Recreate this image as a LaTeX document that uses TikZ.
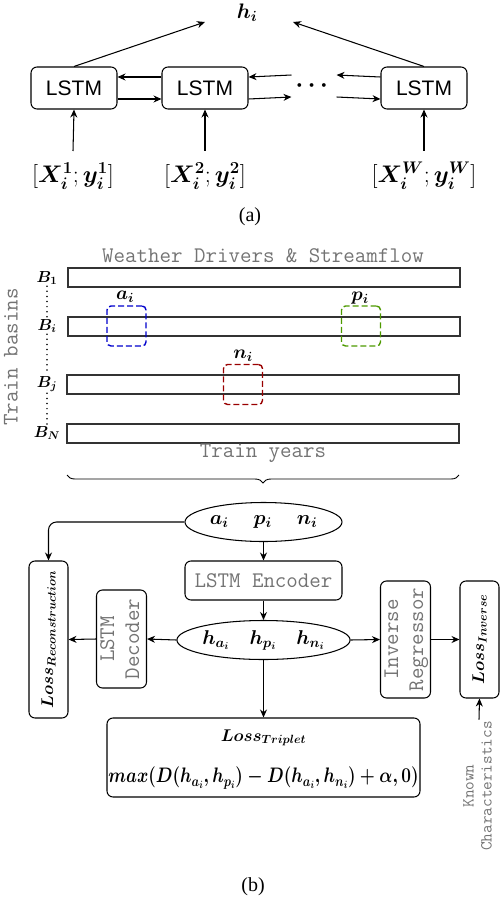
\RequirePackage{fix-cm}
\documentclass[tikz,border=0pt]{standalone}
\usepackage{amsmath}
\usepackage[no-math]{fontspec}
\setmainfont{Liberation Serif}
\newfontfamily\helv{Liberation Sans}
\usepackage{graphicx}
\usetikzlibrary{arrows.meta,shapes.geometric,decorations.pathreplacing,calc}
\definecolor{ttgray}{RGB}{115,115,115}
\definecolor{dblue}{RGB}{0,0,204}
\definecolor{dgreen}{RGB}{77,153,0}
\definecolor{dred}{RGB}{153,0,0}
\newcommand{\bsym}[1]{\boldsymbol{#1}}
\begin{document}
\begin{tikzpicture}[x=1pt,y=-1pt,line width=1.05pt,
  arr/.style={-{Stealth[length=8pt,width=7pt]}},
  lstmbox/.style={draw,rounded corners=6pt,minimum width=86pt,minimum height=42pt,inner sep=0pt,font=\fontsize{21}{25}\helv},
  inlabel/.style={inner sep=11pt,font=\fontsize{24}{28}\selectfont},
  bar/.style={draw=black!80,minimum width=392pt,minimum height=19pt,inner sep=0pt},
  blabel/.style={inner sep=1pt,font=\fontsize{16}{19}\selectfont},
  ttext/.style={text=ttgray,font=\fontsize{22.3}{25}\ttfamily},
  dotline/.style={line width=1.7pt,line cap=round,dash pattern=on 0pt off 5.1pt},
  sel/.style={draw,dashed,dash pattern=on 6pt off 3pt,line width=1.4pt,rounded corners=4pt,minimum width=39pt,minimum height=40pt,inner sep=0pt},
  ell/.style={draw,ellipse,minimum width=157pt,minimum height=39pt,inner sep=0pt,font=\fontsize{20}{24}\selectfont},
  rbox/.style={draw,rounded corners=6pt,inner sep=0pt},
  caption/.style={font=\fontsize{20}{24}\selectfont}]
\useasboundingbox (0,0) rectangle (500,900);

% ---------- (a) ----------
\node[lstmbox] (L1) at (74,88) {LSTM};
\node[lstmbox] (L2) at (205,88) {LSTM};
\node[lstmbox] (L3) at (424,88) {LSTM};
\node[minimum width=44pt,inner sep=0pt,font=\fontsize{24}{28}\selectfont] (dots) at (314,86) {$\bsym{\cdots}$};
\node[inlabel] (X1) at (73,176) {$[\bsym{X_i^1};\bsym{y_i^1}]$};
\node[inlabel] (X2) at (205,176) {$[\bsym{X_i^2};\bsym{y_i^2}]$};
\node[inlabel] (X3) at (424,176) {$[\bsym{X_i^W};\bsym{y_i^W}]$};
\node[font=\fontsize{21}{25}\selectfont] (h) at (247,13) {$\bsym{h_i}$};
\coordinate (hl) at (205,22);
\coordinate (hr) at (293,22);
\draw[arr] (X1.north) -- (L1.south);
\draw[arr] (X2.north) -- (L2.south);
\draw[arr] (X3.north) -- (L3.south);
\draw[arr] ([yshift=11pt]L2.west) -- ([yshift=11pt]L1.east);
\draw[arr] ([yshift=-11pt]L1.east) -- ([yshift=-11pt]L2.west);
\draw[arr] ([yshift=11pt]dots.west) -- ([yshift=11pt]L2.east);
\draw[arr] ([yshift=-11pt]L2.east) -- ([yshift=-11pt]dots.west);
\draw[arr] ([yshift=11pt]L3.west) -- ([yshift=11pt]dots.east);
\draw[arr] ([yshift=-11pt]dots.east) -- ([yshift=-11pt]L3.west);
\draw[arr] (L1.north) -- (hl);
\draw[arr] (L3.north) -- (hr);
\node[caption] (capa) at (250,217) {(a)};

% ---------- (b) ----------
\node[ttext] (wd) at (263,256) {Weather Drivers \& Streamflow};
\node[bar] (bar1) at (264,277.5) {};
\node[bar] (bari) at (264,326.5) {};
\node[bar] (barj) at (263,384.5) {};
\node[bar] (barN) at (263,433.5) {};
\node[blabel] (B1) at (47,278) {$\bsym{B_1}$};
\node[blabel] (Bi) at (47,326) {$\bsym{B_i}$};
\node[blabel] (Bj) at (47,384) {$\bsym{B_j}$};
\node[blabel] (BN) at (47,433) {$\bsym{B_N}$};
\draw[dotline] (B1.south) -- (Bi.north);
\draw[dotline] (Bi.south) -- (Bj.north);
\draw[dotline] (Bj.south) -- (BN.north);
\node[ttext,rotate=90] (tb) at (11,357) {Train basins};
\node[sel,draw=dblue] (as) at (126.5,326) {};
\node[sel,draw=dgreen] (ps) at (361,326) {};
\node[sel,draw=dred] (ns) at (243,384.5) {};
\node[font=\fontsize{19}{22}\selectfont,inner sep=0pt] (al) at (125,297) {$\bsym{a_i}$};
\node[font=\fontsize{19}{22}\selectfont,inner sep=0pt] (pl) at (360,298) {$\bsym{p_i}$};
\node[font=\fontsize{19}{22}\selectfont,inner sep=0pt] (nl) at (243,356) {$\bsym{n_i}$};
\node[ttext] (ty) at (263,453) {Train years};
\coordinate (brR) at (459,475);
\coordinate (brL) at (67,475);
\draw[decorate,decoration={brace,amplitude=8pt},line width=0.9pt] (brR) -- (brL);

\node[ell] (trip) at (263.5,522) {$\bsym{a_i}\quad\ \bsym{p_i}\quad\ \bsym{n_i}$};
\node[rbox,minimum width=157pt,minimum height=39pt,ttext] (enc) at (263.5,580.5) {LSTM Encoder};
\node[ell] (hell) at (263.5,640) {$\bsym{h_{a_i}}\quad\bsym{h_{p_i}}\quad\bsym{h_{n_i}}$};
\node[rbox,minimum width=39pt,minimum height=157pt,font=\fontsize{17}{20}\selectfont] (lrec) at (48.5,639.5) {\rotatebox{90}{$\bsym{Loss_{Reconstruction}}$}};
\node[rbox,minimum width=49pt,minimum height=98pt,ttext] (dec) at (121.5,639) {\rotatebox{90}{\begin{tabular}{@{}c@{}}LSTM\\Decoder\end{tabular}}};
\node[rbox,minimum width=49pt,minimum height=117pt,ttext] (inv) at (405.5,639.5) {\rotatebox{90}{\begin{tabular}{@{}c@{}}Inverse\\Regressor\end{tabular}}};
\node[rbox,minimum width=39pt,minimum height=117pt,font=\fontsize{17}{20}\selectfont] (linv) at (479.5,639.5) {\rotatebox{90}{$\bsym{Loss_{Inverse}}$}};
\node[text=ttgray,font=\fontsize{16.8}{18}\ttfamily,inner sep=1pt] (kc) at (479,786) {\rotatebox{90}{\begin{tabular}{@{}c@{}}Known\\Characteristics\end{tabular}}};
\node[rbox,minimum width=313pt,minimum height=79pt] (tl) at (263.5,757.5) {};
\node[font=\fontsize{17}{20}\selectfont] (tlt) at (263.5,738) {$\bsym{Loss_{Triplet}}$};
\node[font=\fontsize{21}{25}\selectfont] (tlf) at (263.5,778) {\scalebox{0.82}[1]{$\bsym{max(D(h_{a_i},h_{p_i})-D(h_{a_i},h_{n_i})+\alpha,0)}$}};

\draw[arr,rounded corners=8pt] (trip.west) -| (lrec.north);
\draw[arr] (trip.south) -- (enc.north);
\draw[arr] (enc.south) -- (hell.north);
\draw[arr] (hell.west) -- (dec.east);
\draw[arr] (dec.west) -- (lrec.east);
\draw[arr] (hell.east) -- (inv.west);
\draw[arr] (inv.east) -- (linv.west);
\draw[arr] (hell.south) -- (tl.north);
\draw[arr] (kc.north) -- (linv.south);
\node[caption] (capb) at (253,887) {(b)};
\end{tikzpicture}
\end{document}
